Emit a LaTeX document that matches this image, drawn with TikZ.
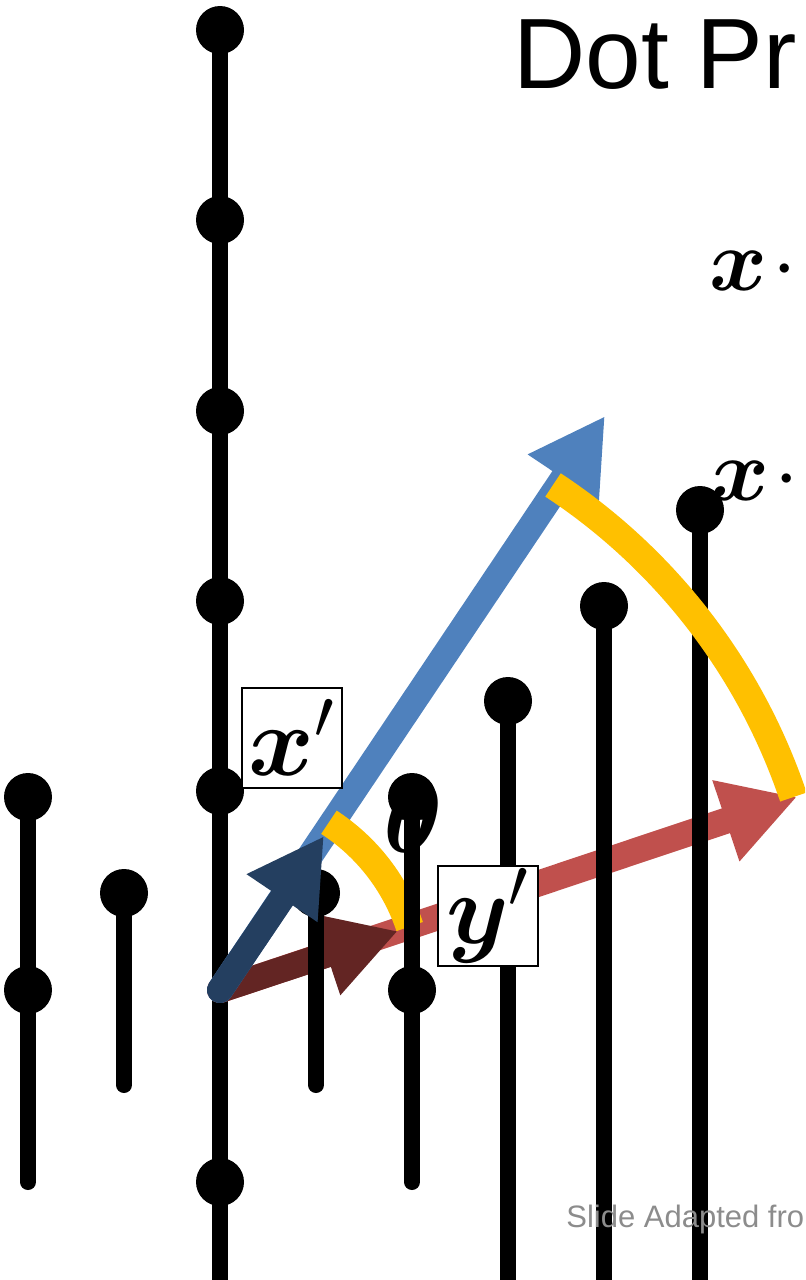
\documentclass[tikz,border=0pt]{standalone}
\usepackage{fix-cm}
\usepackage{amsmath,bm}
\usepackage{fontspec}
\newfontfamily\arialfont{Liberation Sans}
\usetikzlibrary{arrows.meta}
\definecolor{vecblue}{HTML}{4F81BD}
\definecolor{vecnavy}{HTML}{243F60}
\definecolor{vecred}{HTML}{C0504D}
\definecolor{vecmaroon}{HTML}{632523}
\definecolor{anglegold}{HTML}{FFC000}
\definecolor{notegray}{HTML}{8C8C8C}

\begin{document}
\begin{tikzpicture}[x=0.5pt, y=-0.5pt,
        knob/.style={circle, fill=black, inner sep=0pt, minimum size=24pt},
        stemline/.style={line width=8pt, line cap=round},
        vecline/.style={line width=13pt, line cap=round, -{Triangle[length=37.5pt, width=40pt]}},
        anglearc/.style={line width=14pt, anglegold},
        tagbox/.style={draw, line width=1pt, fill=white, minimum size=50pt, inner sep=0pt, font=\fontsize{50}{60}\selectfont}]
        \useasboundingbox (0,0) rectangle (805,1280);
        \clip (0,0) rectangle (805,1280);
        % middle stem with its row of dots
        \node[knob] (c0) at (220,30) {};
        \node[knob] (c1) at (220,220) {};
        \node[knob] (c2) at (220,411) {};
        \node[knob] (c3) at (220,601) {};
        \node[knob] (c4) at (220,791) {};
        \node[knob] (c5) at (220,1182) {};
        \coordinate (cend) at (220,1300);
        \draw[stemline] (c0.center) -- (cend);
        % y and y'
        \coordinate (o) at (220,990);
        \coordinate (ytip) at (797,797);
        \coordinate (yptip) at (398,931);
        \draw[vecline, vecred] (o) -- (ytip);
        \draw[vecline, vecmaroon] (o) -- (yptip);
        % left stems
        \node[knob] (a0) at (28,797) {};
        \node[knob] (a1) at (28,990) {};
        \coordinate (aend) at (28,1182);
        \draw[stemline] (a0.center) -- (aend);
        \node[knob] (b0) at (124,893) {};
        \coordinate (bend) at (124,1085);
        \draw[stemline] (b0.center) -- (bend);
        \node[knob] (d0) at (316,893) {};
        \coordinate (dend) at (316,1085);
        \draw[stemline] (d0.center) -- (dend);
        % x and x'
        \coordinate (xtip) at (605,416);
        \coordinate (xptip) at (324,836);
        \draw[vecline, vecblue] (o) -- (xtip);
        \draw[vecline, vecnavy] (o) -- (xptip);
        \draw[anglearc] (o) ++(-57:200) arc[start angle=-57, end angle=-18.5, radius=200];
        \node[font=\fontsize{50}{60}\selectfont] (theta) at (413,818) {$\bm{\theta}$};
        % right stems
        \node[knob] (e0) at (412,797) {};
        \node[knob] (e1) at (412,990) {};
        \coordinate (eend) at (412,1182);
        \draw[stemline] (e0.center) -- (eend);
        \node[knob] (f0) at (508,701) {};
        \coordinate (fend) at (508,1300);
        \draw[stemline] (f0.center) -- (fend);
        \node[knob] (g0) at (604,606) {};
        \coordinate (gend) at (604,1300);
        \draw[stemline] (g0.center) -- (gend);
        \node[knob] (h0) at (700,510) {};
        \coordinate (hend) at (700,1300);
        \draw[stemline] (h0.center) -- (hend);
        \draw[anglearc] (o) ++(-56.6:605) arc[start angle=-56.6, end angle=-18.6, radius=605];
        % labels
        \node[tagbox] (xlab) at (292,737.5) {$\bm{x}'$};
        \node[tagbox] (ylab) at (487.5,915.5) {$\bm{y}'$};
        \node[anchor=base west, inner sep=0pt, font=\arialfont\fontsize{50}{60}\selectfont] (title) at (513,88) {Dot Pr};
        \node[anchor=base west, inner sep=0pt, font=\fontsize{44}{52}\selectfont] (dotdef) at (709,290) {$\bm{x}\mkern1mu{\cdot}$};
        \node[anchor=base west, inner sep=0pt, font=\fontsize{44}{52}\selectfont] (dotcos) at (711,500) {$\bm{x}\mkern1mu{\cdot}$};
        \node[anchor=base west, inner sep=0pt, text=notegray, font=\arialfont\fontsize{15.5}{19}\selectfont] (credit) at (566,1227) {Slide Adapted fro};
    \end{tikzpicture}
\end{document}
